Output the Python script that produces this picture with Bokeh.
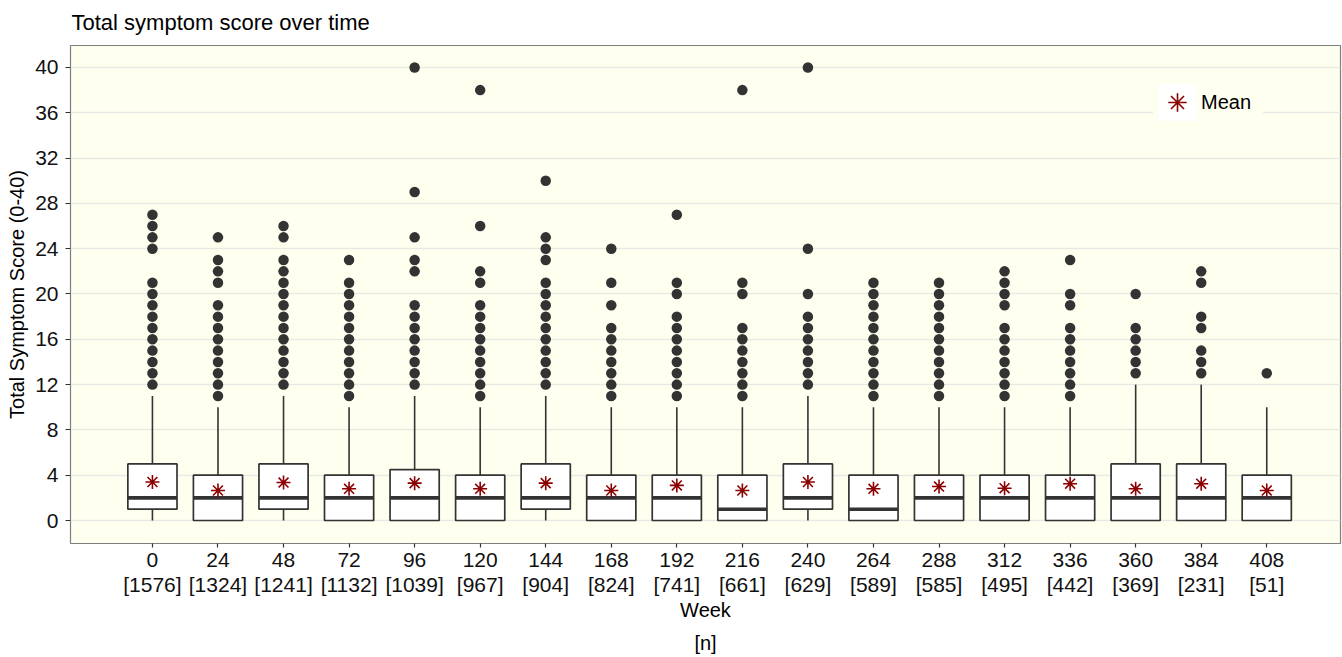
from bokeh.plotting import figure
from bokeh.models import FixedTicker, ColumnDataSource, Legend, LegendItem, Range1d
from bokeh.embed import file_html
from bokeh.resources import INLINE

# ---------------- data ----------------
weeks = [0, 24, 48, 72, 96, 120, 144, 168, 192, 216, 240, 264, 288, 312, 336, 360, 384, 408]
n_counts = [1576, 1324, 1241, 1132, 1039, 967, 904, 824, 741, 661, 629, 589, 585, 495, 442, 369, 231, 51]
q1 = [1, 0, 1, 0, 0, 0, 1, 0, 0, 0, 1, 0, 0, 0, 0, 0, 0, 0]
medians = [2, 2, 2, 2, 2, 2, 2, 2, 2, 1, 2, 1, 2, 2, 2, 2, 2, 2]
q3 = [5, 4, 5, 4, 4.5, 4, 5, 4, 4, 4, 5, 4, 4, 4, 4, 5, 5, 4]
whisker_low = [0, 0, 0, 0, 0, 0, 0, 0, 0, 0, 0, 0, 0, 0, 0, 0, 0, 0]
whisker_high = [11, 10, 11, 10, 11, 10, 11, 10, 10, 10, 11, 10, 10, 10, 10, 12, 12, 10]
means = [3.4, 2.65, 3.35, 2.8, 3.3, 2.8, 3.3, 2.65, 3.1, 2.65, 3.4, 2.8, 3.0, 2.85, 3.25, 2.8, 3.25, 2.65]
outliers = [
    [12, 13, 14, 15, 16, 17, 18, 19, 20, 21, 24, 25, 26, 27],
    [11, 12, 13, 14, 15, 16, 17, 18, 19, 21, 22, 23, 25],
    [12, 13, 14, 15, 16, 17, 18, 19, 20, 21, 22, 23, 25, 26],
    [11, 12, 13, 14, 15, 16, 17, 18, 19, 20, 21, 23],
    [12, 13, 14, 15, 16, 17, 18, 19, 22, 23, 25, 29, 40],
    [11, 12, 13, 14, 15, 16, 17, 18, 19, 21, 22, 26, 38],
    [12, 13, 14, 15, 16, 17, 18, 19, 20, 21, 23, 24, 25, 30],
    [11, 12, 13, 14, 15, 16, 17, 19, 21, 24],
    [11, 12, 13, 14, 15, 16, 17, 18, 20, 21, 27],
    [11, 12, 13, 14, 15, 16, 17, 20, 21, 38],
    [12, 13, 14, 15, 16, 17, 18, 20, 24, 40],
    [11, 12, 13, 14, 15, 16, 17, 18, 19, 20, 21],
    [11, 12, 13, 14, 15, 16, 17, 18, 19, 20, 21],
    [11, 12, 13, 14, 15, 16, 17, 19, 20, 21, 22],
    [11, 12, 13, 14, 15, 16, 17, 19, 20, 23],
    [13, 14, 15, 16, 17, 20],
    [13, 14, 15, 17, 18, 21, 22],
    [13],
]
y_ticks = [0, 4, 8, 12, 16, 20, 24, 28, 32, 36, 40]
title_text = "Total symptom score over time"
x_label = "Week\n[n]"
y_label = "Total Symptom Score (0-40)"
legend_label = "Mean"

# ---------------- styling ----------------
FONT = "Liberation Sans"
PANEL_BG = "#FFFFF0"
DARK = "#333333"
MEAN_COLOR = "#8B0000"
BOX_W = 18

p = figure(width=1342, height=657, output_backend="svg", toolbar_location=None,
           x_range=Range1d(-30.0, 435.0), y_range=Range1d(-2.03, 41.94),
           min_border_left=70, min_border_right=2, min_border_top=45, min_border_bottom=114,
           title=title_text)

p.background_fill_color = PANEL_BG
p.border_fill_color = "white"
p.outline_line_color = "#7F7F7F"
p.outline_line_width = 1.2

p.title.text_font = FONT
p.title.text_font_size = "22px"
p.title.text_font_style = "normal"
p.title.text_color = "black"
p.title.align = "left"
p.title.vertical_align = "top"
p.title.offset = 1
p.title.standoff = 18

# axes
p.xaxis.ticker = FixedTicker(ticks=weeks)
p.xaxis.major_label_overrides = {w: f"{w}\n[{n}]" for w, n in zip(weeks, n_counts)}
p.yaxis.ticker = FixedTicker(ticks=y_ticks)
for ax in (p.xaxis, p.yaxis):
    ax.axis_line_color = None
    ax.major_tick_line_color = DARK
    ax.major_tick_line_width = 1.2
    ax.major_tick_in = 0
    ax.major_tick_out = 5
    ax.minor_tick_line_color = None
    ax.major_label_text_font = FONT
    ax.major_label_text_font_size = "21px"
    ax.major_label_text_color = "#111111"
    ax.axis_label_text_font = FONT
    ax.axis_label_text_font_size = "20px"
    ax.axis_label_text_font_style = "normal"
    ax.axis_label_text_color = "black"

p.xaxis.major_tick_out = 4
p.xaxis.major_label_standoff = 0
p.xaxis.major_label_text_line_height = 1.1
p.xaxis.axis_label = x_label
p.xaxis.axis_label_standoff = 0
p.xaxis.axis_label_text_line_height = 1.5
p.yaxis.major_label_standoff = 7
p.yaxis.axis_label = y_label
p.yaxis.axis_label_standoff = 4

p.xgrid.grid_line_color = None
p.ygrid.grid_line_color = "#E9E9E4"
p.ygrid.grid_line_width = 1.6

# ---------------- glyphs ----------------
src = ColumnDataSource(dict(week=weeks, q1=q1, med=medians, q3=q3,
                            lo=whisker_low, hi=whisker_high, mean=means))

p.segment(x0="week", y0="q3", x1="week", y1="hi", source=src, line_color=DARK, line_width=1.6)
p.segment(x0="week", y0="lo", x1="week", y1="q1", source=src, line_color=DARK, line_width=1.6)
# white box fill (also serves as the white legend key)
fill_r = p.vbar(x="week", top="q3", bottom="q1", width=BOX_W, source=src,
                fill_color="white", line_color=None)
p.vbar(x="week", top="q3", bottom="q1", width=BOX_W, source=src,
       fill_color=None, line_color=DARK, line_width=1.7)
p.rect(x="week", y="med", width=BOX_W, height=3.6, height_units="screen", source=src,
       fill_color=DARK, line_color=None)

ox, oy = [], []
for w, vals in zip(weeks, outliers):
    for v in vals:
        ox.append(w)
        oy.append(v)
p.scatter(x=ox, y=oy, size=10.5, fill_color=DARK, line_color=None)

mean_r = p.scatter(x="week", y="mean", source=src, marker="asterisk", size=14,
                   line_color=MEAN_COLOR, line_width=1.6)

legend = Legend(items=[LegendItem(label=legend_label, renderers=[fill_r, mean_r])],
                location=(1083, 418))
legend.background_fill_color = PANEL_BG
legend.background_fill_alpha = 1.0
legend.border_line_color = None
legend.padding = 12
legend.margin = 0
legend.glyph_width = 48
legend.glyph_height = 46
legend.label_standoff = 0
legend.label_width = 62
legend.label_text_font = FONT
legend.label_text_font_size = "20px"
legend.label_text_color = "black"
p.add_layout(legend, "center")

open("out.html", "w").write(file_html(p, INLINE))
